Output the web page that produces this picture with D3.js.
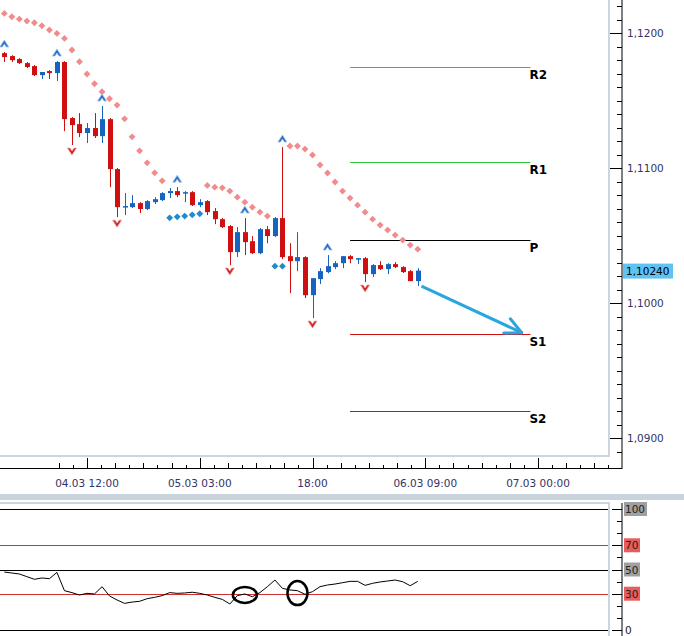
<!DOCTYPE html>
<html>
<head>
<meta charset="utf-8">
<script src="https://cdnjs.cloudflare.com/ajax/libs/d3/7.8.5/d3.min.js"></script>
<style>
  body { margin: 0; background: #fff; }
  text { font-family: "DejaVu Sans", Verdana, sans-serif; }
</style>
</head>
<body>
<div id="chart"></div>
<script>
// Hourly candles, 04.03 01:00 .. 06.03 08:00
const firstTime = new Date(2019, 2, 4, 1);
const opens  = [1.11851,1.11829,1.11807,1.11777,1.11755,1.11688,1.11718,1.11703,1.11785,1.11370,1.11325,1.11259,1.11296,1.11236,1.11362,1.10992,1.10710,1.10710,1.10740,1.10696,1.10747,1.10762,1.10814,1.10829,1.10814,1.10821,1.10725,1.10755,1.10681,1.10621,1.10570,1.10377,1.10525,1.10458,1.10369,1.10547,1.10496,1.10629,1.10347,1.10310,1.10340,1.10058,1.10177,1.10229,1.10266,1.10295,1.10347,1.10325,1.10332,1.10214,1.10281,1.10251,1.10288,1.10266,1.10236,1.10162];
const highs  = [1.11859,1.11836,1.11814,1.11785,1.11762,1.11711,1.11725,1.11792,1.11792,1.11377,1.11407,1.11333,1.11407,1.11459,1.11370,1.11000,1.10814,1.10799,1.10747,1.10762,1.10784,1.10821,1.10851,1.10858,1.10829,1.10829,1.10769,1.10762,1.10703,1.10629,1.10577,1.10562,1.10629,1.10496,1.10555,1.10570,1.10636,1.11155,1.10443,1.10525,1.10347,1.10184,1.10258,1.10355,1.10310,1.10347,1.10355,1.10332,1.10340,1.10288,1.10310,1.10295,1.10303,1.10273,1.10244,1.10258];
const lows   = [1.11785,1.11785,1.11770,1.11740,1.11681,1.11659,1.11659,1.11644,1.11273,1.11170,1.11229,1.11185,1.11222,1.11185,1.10858,1.10636,1.10651,1.10703,1.10666,1.10688,1.10733,1.10755,1.10777,1.10784,1.10747,1.10718,1.10710,1.10651,1.10584,1.10555,1.10281,1.10340,1.10355,1.10362,1.10362,1.10443,1.10488,1.10325,1.10073,1.10236,1.10036,1.09888,1.10140,1.10220,1.10251,1.10258,1.10295,1.10288,1.10155,1.10192,1.10244,1.10214,1.10258,1.10222,1.10162,1.10125];
const closes = [1.11822,1.11799,1.11777,1.11748,1.11688,1.11711,1.11703,1.11785,1.11362,1.11318,1.11259,1.11296,1.11236,1.11362,1.10992,1.10710,1.10718,1.10740,1.10696,1.10755,1.10769,1.10814,1.10829,1.10799,1.10821,1.10725,1.10747,1.10673,1.10621,1.10562,1.10377,1.10525,1.10451,1.10369,1.10547,1.10496,1.10629,1.10340,1.10310,1.10340,1.10058,1.10184,1.10236,1.10273,1.10295,1.10347,1.10325,1.10332,1.10214,1.10281,1.10251,1.10288,1.10266,1.10229,1.10162,1.10240];

// Parabolic SAR: value and side (u = above price, d = below)
const sarVals = [1.12145,1.12120,1.12103,1.12088,1.12076,1.12054,1.12022,1.11997,1.11960,1.11874,1.11787,1.11696,1.11624,1.11565,1.11513,1.11466,1.11364,1.11231,1.11127,1.11038,1.10964,1.10905,1.10631,1.10638,1.10644,1.10653,1.10661,1.10871,1.10858,1.10853,1.10829,1.10784,1.10747,1.10710,1.10673,1.10644,1.10273,1.10273,1.11163,1.11163,1.11140,1.11096,1.11022,1.10963,1.10896,1.10829,1.10777,1.10725,1.10673,1.10621,1.10577,1.10540,1.10503,1.10466,1.10429,1.10399];
const sarSide = "uuuuuuuuuuuuuuuuuuuuuuddddduuuuuuuuudduuuuuuuuuuuuuuuuuu";

// Fractals (candle indexes)
const fractalUp = [0, 7, 13, 23, 32, 37, 43];
const fractalDown = [9, 15, 30, 41, 48];

// Pivot levels
const pivotNames = ["R2", "R1", "P", "S1", "S2"];
const pivotVals = [1.11748, 1.11044, 1.10466, 1.09769, 1.09199];
const pivotColors = ["#33c433", "#33c433", "#000000", "#cc1111", "#cc1111"];
const pivotFrom = new Date(2019, 2, 5, 23);
const pivotTo = new Date(2019, 2, 6, 23);

// Forecast arrow
const arrowFrom = [new Date(2019, 2, 6, 8, 30), 1.10125];
const arrowTo = [new Date(2019, 2, 6, 21, 50), 1.09780];

// RSI
const rsiVals = [47.9,47.1,46.3,44.1,41.9,43.0,42.4,47.6,32.5,30.9,28.9,30.3,29.8,35.8,28.1,24.8,22.0,23.1,23.7,25.9,27.0,28.4,30.9,30.3,30.6,31.2,30.3,28.9,27.0,25.3,21.5,28.4,29.8,27.5,30.9,35.8,41.3,34.4,33.1,32.5,29.5,31.7,35.8,37.2,38.0,39.1,40.2,40.2,36.9,38.6,39.7,40.5,41.3,39.9,36.6,40.2];
const rsiLevels = [100, 70, 50, 30, 0];
const rsiLevelColors = ["#000", "#d03030", "#000", "#d03030", "#000"];
const rsiLabelBg = ["#a0a0a0", "#e85c5c", "#a0a0a0", "#e85c5c", "none"];
const rsiMarks = [[32, 29.0], [39, 30.5]];

// Axis labels
const priceTicks = [1.09, 1.10, 1.11, 1.12];
const timeTicks = [new Date(2019,2,4,12), new Date(2019,2,5,3), new Date(2019,2,5,18), new Date(2019,2,6,9), new Date(2019,2,7,0)];
const timeLabels = ["04.03 12:00", "05.03 03:00", "18:00", "06.03 09:00", "07.03 00:00"];
const lastPrice = 1.10240;

const W = 684, H = 636;
const svg = d3.select("#chart").append("svg").attr("width", W).attr("height", H);

const x = d3.scaleTime()
  .domain([new Date(2019,2,4,12), new Date(2019,2,7,0)])
  .range([87, 538]);
const y = d3.scaleLinear().domain([1.09, 1.12]).range([438, 33]);
const yr = d3.scaleLinear().domain([0, 100]).range([630, 509]);
const tAt = i => d3.timeHour.offset(firstTime, i);
const fmt = v => d3.format(".4f")(v).replace(".", ",");

const axisColor = "#333366";
const plotRight = 609, axisX = 622;

// panel frames
svg.append("line").attr("x1", plotRight).attr("x2", plotRight).attr("y1", 0).attr("y2", 457)
  .attr("stroke", "#cdd6de").attr("stroke-width", 2);
svg.append("line").attr("x1", 0).attr("x2", plotRight + 1).attr("y1", 456).attr("y2", 456)
  .attr("stroke", "#cdd6de").attr("stroke-width", 2);
svg.append("rect").attr("x", 0).attr("y", 494).attr("width", W).attr("height", 6).attr("fill", "#c8d3dd");
svg.append("line").attr("x1", 0).attr("x2", plotRight + 1).attr("y1", 503).attr("y2", 503)
  .attr("stroke", "#cdd6de").attr("stroke-width", 2);
svg.append("line").attr("x1", plotRight).attr("x2", plotRight).attr("y1", 503).attr("y2", H)
  .attr("stroke", "#cdd6de").attr("stroke-width", 2);

// price axis
svg.append("line").attr("x1", axisX).attr("x2", axisX).attr("y1", 0).attr("y2", 469).attr("stroke", "#000");
const minor = d3.range(1.089, 1.1235, 0.001);
svg.append("g").selectAll("line").data(minor).join("line")
  .attr("x1", d => Math.abs(d * 100 - Math.round(d * 100)) < 1e-6 ? 610 : 617)
  .attr("x2", axisX)
  .attr("y1", d => Math.round(y(d)) + 0.5).attr("y2", d => Math.round(y(d)) + 0.5)
  .attr("stroke", "#000");
svg.append("g").selectAll("text").data(priceTicks).join("text")
  .attr("x", 627).attr("y", d => y(d) + 4)
  .attr("font-size", 10.5).attr("fill", axisColor).text(fmt);

// time axis
svg.append("line").attr("x1", 0).attr("x2", axisX).attr("y1", 468.5).attr("y2", 468.5).attr("stroke", "#000");
const minorT = d3.range(-2, 41).map(k => new Date(+timeTicks[0] + k * 1.875 * 3600e3))
  .filter(d => x(d) >= 0 && x(d) < axisX);
svg.append("g").selectAll("line").data(minorT).join("line")
  .attr("x1", d => Math.round(x(d)) + 0.5).attr("x2", d => Math.round(x(d)) + 0.5)
  .attr("y1", d => {
    const k = Math.round((d - timeTicks[0]) / (1.875 * 3600e3));
    return ((k % 8) + 8) % 8 === 0 ? 458 : (k % 2 === 0 ? 463 : 465);
  })
  .attr("y2", 468).attr("stroke", "#000");
svg.append("g").selectAll("text").data(timeTicks).join("text")
  .attr("x", d => x(d)).attr("y", 487).attr("text-anchor", "middle")
  .attr("font-size", 10.5).attr("fill", axisColor)
  .text((d, i) => timeLabels[i]);

// pivot levels
const pv = svg.append("g");
pivotVals.forEach((v, i) => {
  pv.append("line").attr("x1", x(pivotFrom)).attr("x2", x(pivotTo))
    .attr("y1", Math.round(y(v)) + 0.5).attr("y2", Math.round(y(v)) + 0.5)
    .attr("stroke", pivotColors[i]);
  pv.append("text").attr("x", x(pivotTo) - 1).attr("y", y(v) + 12)
    .attr("font-size", 12).attr("fill", "#000").attr("font-weight", 600).text(pivotNames[i]);
});

// SAR
const sarIdx = d3.range(sarVals.length);
svg.append("g").selectAll("path").data(sarIdx).join("path")
  .attr("d", d3.symbol(d3.symbolDiamond2, 30))
  .attr("transform", i => `translate(${x(tAt(i))},${y(sarVals[i])})`)
  .attr("fill", i => sarSide[i] === "u" ? "#f28b8b" : "#1b8ccc");

// candles
const idx = d3.range(opens.length);
const cg = svg.append("g");
cg.selectAll("line").data(idx).join("line")
  .attr("x1", i => Math.round(x(tAt(i))) + 0.5).attr("x2", i => Math.round(x(tAt(i))) + 0.5)
  .attr("y1", i => y(highs[i])).attr("y2", i => y(lows[i]))
  .attr("stroke", i => closes[i] >= opens[i] ? "#1565c0" : "#d01010");
cg.selectAll("rect").data(idx).join("rect")
  .attr("x", i => Math.round(x(tAt(i))) - 2).attr("width", 5)
  .attr("y", i => y(Math.max(opens[i], closes[i])))
  .attr("height", i => Math.max(1.5, Math.abs(y(opens[i]) - y(closes[i]))))
  .attr("fill", i => closes[i] >= opens[i] ? "#1565c0" : "#d01010");

// fractals
svg.append("g").selectAll("path").data(fractalUp).join("path")
  .attr("d", "M-4.5,3 L0,-4 L4.5,3 L2,3 L0,0 L-2,3 Z")
  .attr("transform", i => `translate(${x(tAt(i))},${y(highs[i]) - 8})`)
  .attr("fill", "#2b6cc4").attr("stroke", "#9cc4ec").attr("stroke-width", 0.8);
svg.append("g").selectAll("path").data(fractalDown).join("path")
  .attr("d", "M-4.5,-3 L0,4 L4.5,-3 L2,-3 L0,0 L-2,-3 Z")
  .attr("transform", i => `translate(${x(tAt(i))},${y(lows[i]) + 6})`)
  .attr("fill", "#d02020").attr("stroke", "#f0a0a0").attr("stroke-width", 0.8);

// forecast arrow
const ax1 = x(arrowFrom[0]), ay1 = y(arrowFrom[1]), ax2 = x(arrowTo[0]), ay2 = y(arrowTo[1]);
const ang = Math.atan2(ay2 - ay1, ax2 - ax1);
svg.append("line").attr("x1", ax1).attr("y1", ay1).attr("x2", ax2).attr("y2", ay2)
  .attr("stroke", "#2aa6de").attr("stroke-width", 3);
[0.45, -0.45].forEach(a => {
  svg.append("line").attr("x1", ax2).attr("y1", ay2)
    .attr("x2", ax2 - 18 * Math.cos(ang + a)).attr("y2", ay2 - 18 * Math.sin(ang + a))
    .attr("stroke", "#2aa6de").attr("stroke-width", 3).attr("stroke-linecap", "round");
});

// last price label
svg.append("rect").attr("x", 623).attr("y", y(lastPrice) - 7).attr("width", 50).attr("height", 15).attr("fill", "#5ec3f2");
svg.append("text").attr("x", 626).attr("y", y(lastPrice) + 4).attr("font-size", 10.5).attr("fill", "#000")
  .text(d3.format(".5f")(lastPrice).replace(".", ","));

// RSI panel
svg.append("line").attr("x1", axisX).attr("x2", axisX).attr("y1", 503).attr("y2", H).attr("stroke", "#000");
svg.append("g").selectAll("line").data(d3.range(0, 101, 10)).join("line")
  .attr("x1", d => rsiLevels.includes(d) ? 612 : 617).attr("x2", axisX)
  .attr("y1", d => Math.round(yr(d)) + 0.5).attr("y2", d => Math.round(yr(d)) + 0.5).attr("stroke", "#000");
rsiLevels.forEach((v, i) => {
  svg.append("line").attr("x1", 0).attr("x2", plotRight - 1)
    .attr("y1", Math.round(yr(v)) + 0.5).attr("y2", Math.round(yr(v)) + 0.5)
    .attr("stroke", rsiLevelColors[i]).attr("stroke-width", i % 2 === 0 ? 1.2 : 1);
  const label = String(v);
  if (rsiLabelBg[i] !== "none") {
    svg.append("rect").attr("x", 624).attr("y", yr(v) - 7).attr("width", label.length * 7 + 2).attr("height", 14)
      .attr("fill", rsiLabelBg[i]);
  }
  svg.append("text").attr("x", 625).attr("y", yr(v) + 4).attr("font-size", 10.5).attr("fill", "#222").text(label);
});
svg.append("path").datum(idx)
  .attr("d", d3.line().x(i => x(tAt(i))).y(i => yr(rsiVals[i])))
  .attr("fill", "none").attr("stroke", "#000").attr("stroke-width", 1);
svg.append("g").selectAll("ellipse").data(rsiMarks).join("ellipse")
  .attr("cx", d => x(tAt(d[0]))).attr("cy", d => yr(d[1]))
  .attr("rx", (d, i) => i === 0 ? 12 : 10).attr("ry", (d, i) => i === 0 ? 8 : 12)
  .attr("fill", "none").attr("stroke", "#000").attr("stroke-width", 2.5);
</script>
</body>
</html>
